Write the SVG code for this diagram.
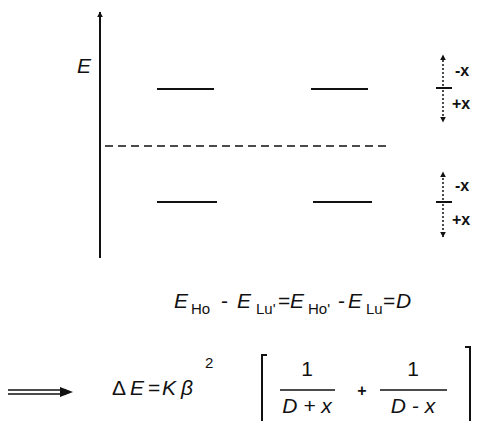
<svg xmlns="http://www.w3.org/2000/svg" width="478" height="423" viewBox="0 0 478 423">
<style>
.ln{stroke:#111;fill:none}
.lvl{stroke:#111;stroke-width:2}
.dot{stroke:#111;stroke-width:1.5;stroke-dasharray:2,2}
.t{font-family:"Liberation Sans",Arial,sans-serif;fill:#111}
.it{font-style:italic}
.big{font-size:21px}
.sub{font-size:15px}
.lab{font-size:16px;font-weight:bold}
</style>
<defs>
<marker id="ah" viewBox="0 0 10 10" refX="9" refY="5" markerWidth="6" markerHeight="7" orient="auto" markerUnits="userSpaceOnUse">
<path d="M0,0 L10,5 L0,10 Z" fill="#111"/>
</marker>
<marker id="ah2" viewBox="0 0 10 10" refX="9" refY="5" markerWidth="6" markerHeight="6" orient="auto" markerUnits="userSpaceOnUse">
<path d="M0,0 L10,5 L0,10 Z" fill="#111"/>
</marker>
</defs>
<rect width="478" height="423" fill="#fff"/>
<g id="connectors">
<line class="ln" x1="100" y1="258" x2="100" y2="12" stroke-width="2" marker-end="url(#ah)"/>
<line class="ln" x1="105" y1="146" x2="389" y2="146" stroke-width="1.5" stroke-dasharray="8,5"/>
<line class="dot" x1="443" y1="86" x2="443" y2="55" marker-end="url(#ah2)"/>
<line class="dot" x1="443" y1="90" x2="443" y2="122" marker-end="url(#ah2)"/>
<line class="dot" x1="443" y1="200" x2="443" y2="172" marker-end="url(#ah2)"/>
<line class="dot" x1="443" y1="204" x2="443" y2="237" marker-end="url(#ah2)"/>
</g>
<g id="axis-label"><text class="t it big" x="77" y="73">E</text></g>
<g id="level-ho-upper"><line class="lvl" x1="157" y1="89" x2="214" y2="89"/></g>
<g id="level-lu-upper"><line class="lvl" x1="311" y1="89" x2="368" y2="89"/></g>
<g id="level-ho-lower"><line class="lvl" x1="157" y1="202" x2="217" y2="202"/></g>
<g id="level-lu-lower"><line class="lvl" x1="313" y1="202" x2="372" y2="202"/></g>
<g id="shift-upper">
<line class="lvl" x1="436" y1="88" x2="452" y2="88"/>
<text class="t lab" x="455" y="76">-x</text>
<text class="t lab" x="452" y="109">+x</text>
</g>
<g id="shift-lower">
<line class="lvl" x1="436" y1="202" x2="452" y2="202"/>
<text class="t lab" x="455" y="191">-x</text>
<text class="t lab" x="452" y="225">+x</text>
</g>
<g id="formula-1">
<text class="t big it" x="174" y="308">E</text>
<text class="t sub" x="191" y="314">Ho</text>
<text class="t big" x="221" y="308">-</text>
<text class="t big it" x="237" y="308">E</text>
<text class="t sub" x="256" y="314">Lu'</text>
<text class="t big" x="278" y="308">=</text>
<text class="t big it" x="290" y="308">E</text>
<text class="t sub" x="308" y="314">Ho'</text>
<text class="t big" x="338" y="308">-</text>
<text class="t big it" x="348" y="308">E</text>
<text class="t sub" x="366" y="314">Lu</text>
<text class="t big" x="383" y="308">=</text>
<text class="t big it" x="396" y="308">D</text>
</g>
<g id="formula-2">
<line class="ln" x1="8" y1="390" x2="66" y2="390" stroke-width="1.5"/>
<line class="ln" x1="8" y1="394" x2="66" y2="394" stroke-width="1.5"/>
<path d="M60,387 L73,392 L60,397 Z" fill="#111"/>
<text class="t big" x="112" y="395">Δ</text>
<text class="t big it" x="130" y="395">E</text>
<text class="t big" x="148" y="395">=</text>
<text class="t big it" x="162" y="395">K</text>
<text class="t big it" x="181" y="395">β</text>
<text class="t sub" x="205" y="368">2</text>
<path class="ln" d="M267,355 L262,355 L262,421" stroke-width="2"/>
<path class="ln" d="M465,347 L470,347 L470,421" stroke-width="2"/>
<text class="t big" x="307" y="376" text-anchor="middle">1</text>
<line class="ln" x1="280" y1="390" x2="335" y2="390" stroke-width="1.5"/>
<text class="t big it" x="307" y="413" text-anchor="middle">D + x</text>
<text class="t lab" x="362" y="396" text-anchor="middle">+</text>
<text class="t big" x="413" y="376" text-anchor="middle">1</text>
<line class="ln" x1="380" y1="390" x2="447" y2="390" stroke-width="1.5"/>
<text class="t big it" x="413" y="413" text-anchor="middle">D - x</text>
</g>
</svg>
